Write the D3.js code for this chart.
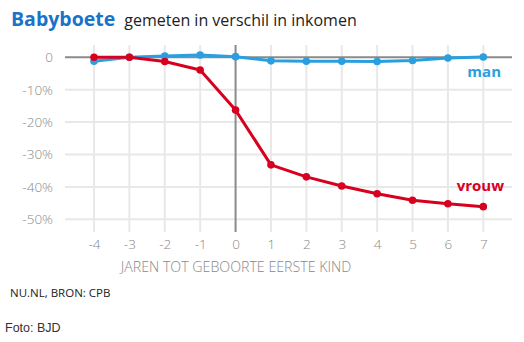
<!DOCTYPE html>
<html><head><meta charset="utf-8">
<script src="https://cdn.jsdelivr.net/npm/d3@7"></script>
<style>body{margin:0;background:#fff}svg{display:block}</style>
</head><body>
<script>
const years = [-4,-3,-2,-1,0,1,2,3,4,5,6,7];
const man   = [-1.2,0,0.4,0.7,0.2,-1.1,-1.2,-1.2,-1.3,-1.0,-0.2,0.1];
const vrouw = [0,0,-1.3,-3.9,-16.3,-33.2,-36.9,-39.7,-42.1,-44.1,-45.2,-46.1];
const yTicks = [0,-10,-20,-30,-40,-50];
const title = "Babyboete", subtitle = "gemeten in verschil in inkomen";
const xTitle = "JAREN TOT GEBOORTE EERSTE KIND";
const source = "NU.NL, BRON: CPB", foto = "Foto: BJD";

const W=524,H=342;
const svg=d3.select("body").append("svg").attr("width",W).attr("height",H);
const x=d3.scaleLinear().domain([-4,7]).range([94,483.3]);
const y=d3.scaleLinear().domain([0,-50]).range([57.3,219.3]);
const F="'Open Sans', sans-serif";
const blue="#2a9fe0", red="#d8001f";

// grid
const g=svg.append("g");
g.selectAll(".hg").data(yTicks.filter(d=>d!==0)).join("line")
 .attr("x1",65).attr("x2",512).attr("y1",d=>y(d)).attr("y2",d=>y(d))
 .attr("stroke","#e8e8e8").attr("stroke-width",2);
g.selectAll(".vg").data(years.filter(d=>d!==0)).join("line")
 .attr("x1",d=>x(d)).attr("x2",d=>x(d)).attr("y1",45).attr("y2",232)
 .attr("stroke","#e8e8e8").attr("stroke-width",2);
g.append("line").attr("x1",65).attr("x2",512).attr("y1",y(0)).attr("y2",y(0)).attr("stroke","#8a8a8a").attr("stroke-width",2);
g.append("line").attr("x1",x(0)).attr("x2",x(0)).attr("y1",45).attr("y2",232).attr("stroke","#8a8a8a").attr("stroke-width",2);

// axes labels
const yAxis=d3.axisLeft(y).tickValues(yTicks).tickSize(0).tickFormat(d=>d===0?"0":d+"%");
const ya=svg.append("g").attr("transform","translate(56,0)").call(yAxis);
ya.select(".domain").remove();
ya.selectAll("text").attr("font-family",F).attr("font-weight",300).attr("font-size",13.5).attr("fill","#888");
const xAxis=d3.axisBottom(x).tickValues(years).tickSize(0).tickFormat(d=>String(d));
const xa=svg.append("g").attr("transform","translate(0,236)").call(xAxis);
xa.select(".domain").remove();
xa.selectAll("text").attr("font-family",F).attr("font-weight",300).attr("font-size",13.5).attr("fill","#888").attr("dy","0.71em");

svg.append("text").attr("x",236).attr("y",272).attr("text-anchor","middle")
 .attr("font-family",F).attr("font-weight",300).attr("font-size",14.2).attr("fill","#888").text(xTitle);

// lines
const line=d3.line().x((d,i)=>x(years[i])).y(d=>y(d));
[[man,blue],[vrouw,red]].forEach(([data,c])=>{
  svg.append("path").datum(data).attr("d",line).attr("fill","none").attr("stroke",c).attr("stroke-width",3).attr("stroke-linejoin","round");
  svg.selectAll(null).data(data).join("circle").attr("cx",(d,i)=>x(years[i])).attr("cy",d=>y(d)).attr("r",3.8).attr("fill",c);
});

svg.append("text").attr("x",501).attr("y",77).attr("text-anchor","end").attr("font-family",F).attr("font-weight","bold").attr("font-size",15).attr("fill",blue).text("man");
svg.append("text").attr("x",504).attr("y",191).attr("text-anchor","end").attr("font-family",F).attr("font-weight","bold").attr("font-size",15).attr("fill",red).text("vrouw");

// title
const t=svg.append("text").attr("x",11).attr("y",26).attr("font-family",F);
t.append("tspan").attr("font-weight","bold").attr("font-size",19.5).attr("fill","#1a72c9").text(title);
t.append("tspan").attr("dx",9).attr("font-size",16).attr("fill","#222").text(subtitle);

svg.append("text").attr("x",10).attr("y",297).attr("font-family",F).attr("font-size",11.5).attr("fill","#222").text(source);
svg.append("text").attr("x",5).attr("y",332).attr("font-family","'Liberation Sans', Arial, sans-serif").attr("font-size",12.5).attr("fill","#333").text(foto);
</script>
</body></html>
